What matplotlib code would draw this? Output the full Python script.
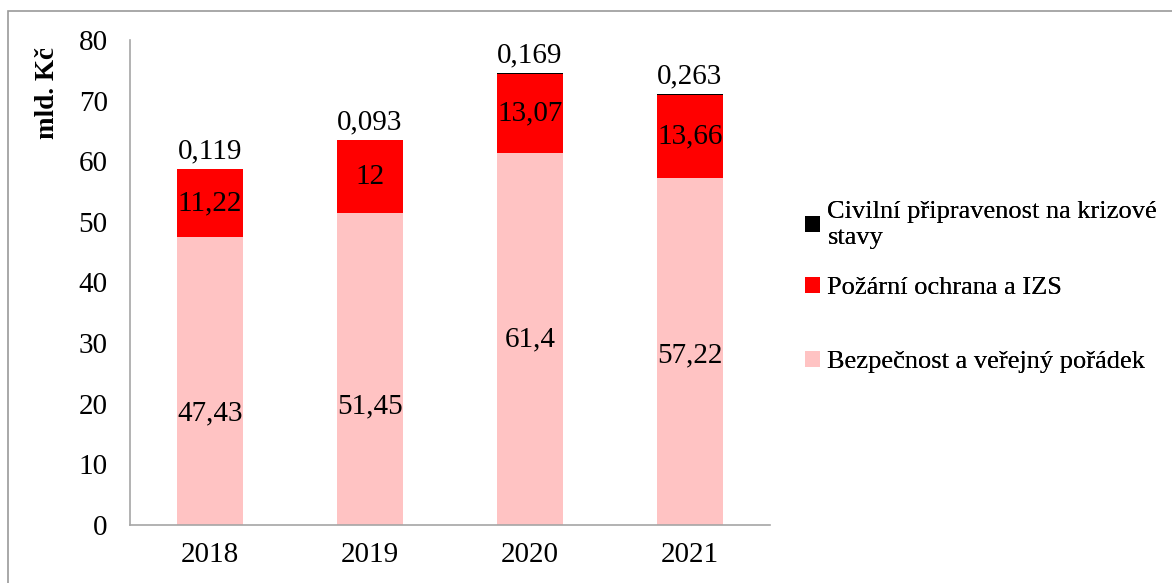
import matplotlib
matplotlib.use("Agg")
import matplotlib.pyplot as plt
from matplotlib.patches import Rectangle, Patch
import numpy as np

years = ["2018", "2019", "2020", "2021"]
bezpecnost = [47.43, 51.45, 61.4, 57.22]
pozarni = [11.22, 12, 13.07, 13.66]
civilni = [0.119, 0.093, 0.169, 0.263]

bez_labels = ["47,43", "51,45", "61,4", "57,22"]
poz_labels = ["11,22", "12", "13,07", "13,66"]
civ_labels = ["0,119", "0,093", "0,169", "0,263"]
bez_offsets = [-23, -27, 0, -3]  # label offsets in points

c_bez = "#FFC3C3"
c_poz = "#FF0000"
c_civ = "#000000"

plt.rcParams['font.family'] = ['Liberation Serif', 'DejaVu Serif']
fs = 21
lfs = 19

fig = plt.figure(figsize=(11.72, 5.83), dpi=100)
ax = fig.add_axes([130/1172, 1 - 525/583, 640/1172, 485/583])

x = np.arange(len(years))
w = 0.41
ax.bar(x, bezpecnost, w, color=c_bez, label="Bezpečnost a veřejný pořádek")
ax.bar(x, pozarni, w, bottom=bezpecnost, color=c_poz, label="Požární ochrana a IZS")
bottom3 = np.array(bezpecnost) + np.array(pozarni)
ax.bar(x, civilni, w, bottom=bottom3, color=c_civ, label="Civilní připravenost na krizové\nstavy")

for i in range(len(years)):
    ax.annotate(bez_labels[i], (x[i], bezpecnost[i] / 2), xytext=(0, bez_offsets[i]),
                textcoords="offset points", ha="center", va="center", fontsize=fs)
    ax.annotate(poz_labels[i], (x[i], bezpecnost[i] + pozarni[i] / 2), xytext=(0, 0),
                textcoords="offset points", ha="center", va="center", fontsize=fs)
    ax.annotate(civ_labels[i], (x[i], bottom3[i] + civilni[i]), xytext=(0, 3),
                textcoords="offset points", ha="center", va="bottom", fontsize=fs)

ax.set_xlim(-0.5, 3.5)
ax.set_ylim(0, 80)
ax.set_yticks(range(0, 81, 10))
ax.set_xticks(x)
ax.set_xticklabels(years)
ax.tick_params(axis="both", length=0, labelsize=fs)
ax.tick_params(axis="y", pad=16)
ax.tick_params(axis="x", pad=12)
for s in ["top", "right"]:
    ax.spines[s].set_visible(False)
for s in ["left", "bottom"]:
    ax.spines[s].set_color("#A6A6A6")
    ax.spines[s].set_linewidth(1.2)
ax.set_ylabel("mld. Kč", fontsize=19.5, fontweight="bold")
ax.yaxis.set_label_coords(-0.11, 0.89)

# legend entries as separate legends for Excel-like spacing
entries = [
    (c_civ, "Civilní připravenost na krizové\nstavy", 225),
    (c_poz, "Požární ochrana a IZS", 288),
    (c_bez, "Bezpečnost a veřejný pořádek", 362),
]
for col, lab, yc in entries:
    leg = fig.legend(handles=[Patch(facecolor=col, label=lab)], loc="center left",
                     bbox_to_anchor=(805/1172, 1 - yc/583), frameon=False,
                     fontsize=lfs, handlelength=0.55, handleheight=0.55,
                     handletextpad=0.3, borderpad=0, borderaxespad=0, labelspacing=0)
    fig.add_artist(leg)

# outer border (top & left visible)
fig.add_artist(Rectangle((8/1172, -0.1), 1.2, 1 - 11/583 + 0.1, transform=fig.transFigure,
                         fill=False, edgecolor="#9A9A9A", linewidth=1.2))

fig.savefig("out.png", dpi=100)
